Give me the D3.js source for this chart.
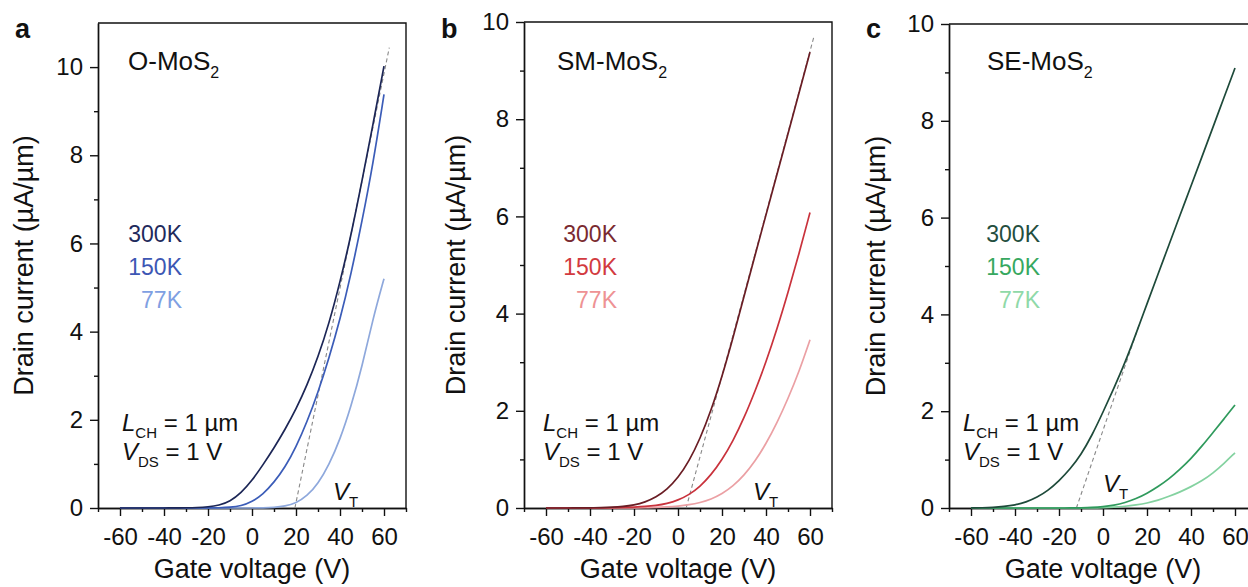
<!DOCTYPE html>
<html>
<head>
<meta charset="utf-8">
<script src="https://cdn.jsdelivr.net/npm/d3@7"></script>
<style>
  body { margin: 0; background: #fff; }
  svg { display: block; font-family: "Liberation Sans", Arial, sans-serif; }
  .axis path, .axis line { stroke: #111; stroke-width: 1.4; }
  .axis text { font-size: 24px; fill: #111; font-family: "Liberation Sans", Arial, sans-serif; }
</style>
</head>
<body>
<div id="chart"></div>
<script>
// gate voltage grid (V) shared by every transfer curve
const gateV = [-60, -55, -50, -45, -40, -35, -30, -25, -20, -15, -10, -5, 0,
               5, 10, 15, 20, 25, 30, 35, 40, 45, 50, 55, 60];

// drain current (uA/um)
const oMoS2_300K = [0, 0, 0, 0, 0, 0.002, 0.005, 0.01, 0.025, 0.06, 0.15, 0.34, 0.62,
                    0.98, 1.36, 1.78, 2.24, 2.78, 3.42, 4.18, 5.12, 6.18, 7.42, 8.7, 10.02];
const oMoS2_150K = [0, 0, 0, 0, 0, 0, 0, 0, 0.002, 0.005, 0.015, 0.045, 0.14,
                    0.31, 0.58, 0.92, 1.38, 1.95, 2.62, 3.4, 4.27, 5.3, 6.5, 7.8, 9.38];
const oMoS2_77K  = [0, 0, 0, 0, 0, 0, 0, 0, 0, 0, 0, 0, 0,
                    0.003, 0.012, 0.04, 0.11, 0.27, 0.55, 0.98, 1.55, 2.3, 3.2, 4.3, 5.2];

const smMoS2_300K = [0, 0, 0, 0.002, 0.004, 0.008, 0.015, 0.03, 0.06, 0.12, 0.22, 0.38, 0.62,
                     0.96, 1.42, 2.0, 2.7, 3.5, 4.35, 5.2, 6.03, 6.87, 7.7, 8.54, 9.38];
const smMoS2_150K = [0, 0, 0, 0, 0, 0, 0.005, 0.01, 0.02, 0.03, 0.05, 0.09, 0.16,
                     0.27, 0.44, 0.68, 0.99, 1.38, 1.85, 2.4, 3.0, 3.68, 4.43, 5.23, 6.08];
const smMoS2_77K  = [0, 0, 0, 0, 0, 0, 0, 0, 0, 0.005, 0.01, 0.02, 0.038,
                     0.065, 0.11, 0.18, 0.29, 0.45, 0.67, 0.96, 1.32, 1.75, 2.25, 2.8, 3.46];

const seMoS2_300K = [0, 0.004, 0.012, 0.03, 0.06, 0.12, 0.22, 0.36, 0.56, 0.8, 1.1, 1.5, 1.98,
                     2.48, 3.0, 3.6, 4.22, 4.83, 5.44, 6.05, 6.65, 7.26, 7.87, 8.48, 9.09];
const seMoS2_150K = [0, 0, 0, 0, 0, 0, 0, 0, 0, 0, 0.004, 0.01, 0.025,
                     0.055, 0.11, 0.19, 0.3, 0.44, 0.6, 0.8, 1.02, 1.28, 1.56, 1.84, 2.13];
const seMoS2_77K  = [0, 0, 0, 0, 0, 0, 0, 0, 0, 0, 0, 0, 0.005,
                     0.015, 0.035, 0.065, 0.1, 0.16, 0.24, 0.33, 0.44, 0.56, 0.72, 0.92, 1.14];

// threshold-voltage extrapolation lines [Vg, Id]
const vtLineO  = [[19.5, 0], [62.4, 10.44]];
const vtLineSM = [[3.7, 0], [61.8, 9.7]];
const vtLineSE = [[-12.1, 0], [16.7, 3.82]];

const tempLabels = ['300K', '150K', '77K'];
const sampleNames = ['O-MoS', 'SM-MoS', 'SE-MoS'];
const panelLetters = ['a', 'b', 'c'];
const xTicks = [-60, -40, -20, 0, 20, 40, 60];
const xMinorTicks = [-70, -50, -30, -10, 10, 30, 50, 70];
const yTicks = [0, 2, 4, 6, 8, 10];
const yMinorTicks = [1, 3, 5, 7, 9];

// layout and colours per panel
const panels = [
  { left: 98,  top: 23, yMax: 11, series: [oMoS2_300K, oMoS2_150K, oMoS2_77K], vt: vtLineO,
    colors: ['#1c2656', '#3b5cb8', '#8ea8dc'], legendColors: ['#1f2a5c', '#3d57b4', '#7fa0e2'],
    legendX: 84, titleDx: -65, nameDx: 30, noteDx: 24, vtPos: [333, 500] },
  { left: 524, top: 22, yMax: 10, series: [smMoS2_300K, smMoS2_150K, smMoS2_77K], vt: vtLineSM,
    colors: ['#6a1d24', '#c9323c', '#eba0a4'], legendColors: ['#7a2a30', '#d23a40', '#ee9294'],
    legendX: 93, titleDx: -59, nameDx: 33, noteDx: 19, vtPos: [753, 500] },
  { left: 949, top: 24, yMax: 10, series: [seMoS2_300K, seMoS2_150K, seMoS2_77K], vt: vtLineSE,
    colors: ['#1e4a3a', '#2f9a5c', '#84d2a0'], legendColors: ['#244e3e', '#37a860', '#8fd9a8'],
    legendX: 91, titleDx: -64, nameDx: 38, noteDx: 14, vtPos: [1103, 492] }
];

const plotW = 308;
const bottom = 508;

const svg = d3.select('#chart')
  .append('svg')
    .attr('width', 1248)
    .attr('height', 587);

svg.append('rect').attr('width', 1248).attr('height', 587).attr('fill', '#fff');

panels.forEach((p, pi) => {
  const x = d3.scaleLinear().domain([-70, 70]).range([p.left, p.left + plotW]);
  const y = d3.scaleLinear().domain([0, p.yMax]).range([bottom, p.top]);

  // frame (top and right)
  svg.append('path')
    .attr('d', `M${p.left},${p.top}H${p.left + plotW}V${bottom}`)
    .attr('fill', 'none')
    .attr('stroke', '#111')
    .attr('stroke-width', 1.4);

  // axes, minor ticks first
  svg.append('g')
      .attr('class', 'axis')
      .attr('transform', `translate(0,${bottom})`)
      .call(d3.axisBottom(x).tickValues(xMinorTicks).tickSize(4).tickFormat('').tickSizeOuter(0));
  svg.append('g')
      .attr('class', 'axis')
      .attr('transform', `translate(0,${bottom})`)
      .call(d3.axisBottom(x).tickValues(xTicks).tickSize(8).tickPadding(12)
        .tickSizeOuter(0).tickFormat(d => String(d)));

  svg.append('g')
      .attr('class', 'axis')
      .attr('transform', `translate(${p.left},0)`)
      .call(d3.axisLeft(y).tickValues(yMinorTicks).tickSize(4).tickFormat('').tickSizeOuter(0));
  svg.append('g')
      .attr('class', 'axis')
      .attr('transform', `translate(${p.left},0)`)
      .call(d3.axisLeft(y).tickValues(yTicks).tickSize(8).tickPadding(7)
        .tickSizeOuter(0).tickFormat(d => String(d)));

  // threshold extrapolation line
  svg.append('path')
    .datum(p.vt)
    .attr('d', d3.line().x(d => x(d[0])).y(d => y(d[1])))
    .attr('fill', 'none')
    .attr('stroke', '#888')
    .attr('stroke-width', 1.1)
    .attr('stroke-dasharray', '4,3');

  // transfer curves, lightest first so the 300K curve stays on top
  const line = d3.line()
    .curve(d3.curveBasis)
    .x((d, i) => x(gateV[i]))
    .y(d => y(d));

  [2, 1, 0].forEach(k => {
    svg.append('path')
      .datum(p.series[k])
      .attr('d', line)
      .attr('fill', 'none')
      .attr('stroke', p.colors[k])
      .attr('stroke-width', 1.7);
  });

  // axis titles
  svg.append('text')
    .attr('transform', `translate(${p.left + p.titleDx},${(p.top + bottom) / 2}) rotate(-90)`)
    .attr('text-anchor', 'middle')
    .style('font-size', '27px')
    .attr('fill', '#111')
    .text('Drain current (µA/µm)');

  svg.append('text')
    .attr('x', x(0))
    .attr('y', 578)
    .attr('text-anchor', 'middle')
    .style('font-size', '27px')
    .attr('fill', '#111')
    .text('Gate voltage (V)');

  // panel letter
  svg.append('text')
    .attr('x', p.left - 83)
    .attr('y', 38)
    .style('font-size', '27px')
    .style('font-weight', 'bold')
    .attr('fill', '#111')
    .text(panelLetters[pi]);

  // sample name with subscript 2
  const name = svg.append('text')
    .attr('x', p.left + p.nameDx)
    .attr('y', 70)
    .style('font-size', '26px')
    .attr('fill', '#111');
  name.append('tspan').text(sampleNames[pi]);
  name.append('tspan').attr('dy', 8).style('font-size', '16px').text('2');

  // temperature legend
  tempLabels.forEach((t, k) => {
    svg.append('text')
      .attr('x', p.left + p.legendX)
      .attr('y', 242 + k * 33)
      .attr('text-anchor', 'end')
      .style('font-size', '23px')
      .attr('fill', p.legendColors[k])
      .text(t);
  });

  // device notes
  const l1 = svg.append('text')
    .attr('x', p.left + p.noteDx)
    .attr('y', 431)
    .style('font-size', '24px')
    .attr('fill', '#111');
  l1.append('tspan').style('font-style', 'italic').text('L');
  l1.append('tspan').attr('dy', 7).style('font-size', '15px').text('CH');
  l1.append('tspan').attr('dy', -7).text(' = 1 µm');

  const l2 = svg.append('text')
    .attr('x', p.left + p.noteDx)
    .attr('y', 460)
    .style('font-size', '24px')
    .attr('fill', '#111');
  l2.append('tspan').style('font-style', 'italic').text('V');
  l2.append('tspan').attr('dy', 7).style('font-size', '15px').text('DS');
  l2.append('tspan').attr('dy', -7).text(' = 1 V');

  // threshold label
  const vt = svg.append('text')
    .attr('x', p.vtPos[0])
    .attr('y', p.vtPos[1])
    .style('font-size', '24px')
    .attr('fill', '#111');
  vt.append('tspan').style('font-style', 'italic').text('V');
  vt.append('tspan').attr('dy', 7).style('font-size', '15px').text('T');
});
</script>
</body>
</html>
